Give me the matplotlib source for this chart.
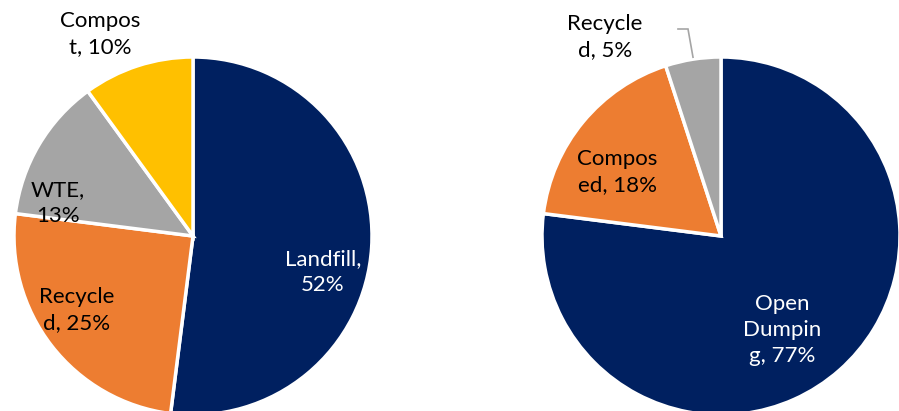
import numpy as np
import matplotlib.pyplot as plt

# Waste treatment shares for the two pies
left_labels = ["Landfill,\n52%", "Recycle\nd, 25%", "WTE,\n13%", "Compos\nt, 10%"]
left_values = [52, 25, 13, 10]
right_labels = ["Open\nDumpin\ng, 77%", "Compos\ned, 18%", "Recycle\nd, 5%"]
right_values = [77, 18, 5]

navy, orange, gray, gold = "#002060", "#ED7D31", "#A5A5A5", "#FFC000"

W, H = 899, 411
fig = plt.figure(figsize=(W / 100, H / 100), dpi=100)
ax = fig.add_axes([0, 0, 1, 1])

R = 179
left_c = (193, H - 236)
right_c = (721, H - 236)

wedge_style = dict(edgecolor="white", linewidth=2.5)
ax.pie(left_values, center=left_c, radius=R, startangle=90, counterclock=False,
       colors=[navy, orange, gray, gold], wedgeprops=wedge_style)
wedges_r, _ = ax.pie(right_values, center=right_c, radius=R, startangle=90,
                     counterclock=False, colors=[navy, orange, gray],
                     wedgeprops=wedge_style)

ax.set_xlim(0, W)
ax.set_ylim(0, H)
ax.set_aspect("equal")
ax.axis("off")

font = dict(family=["Lato", "DejaVu Sans"], fontsize=16, ha="center", va="center",
            linespacing=1.4)

# label anchor points (pixel layout, y measured from top)
left_pos = [(323, 272), (77, 310), (58, 203), (100, 34)]
left_col = ["white", "black", "black", "black"]
for lab, (x, y), c in zip(left_labels, left_pos, left_col):
    ax.text(x, H - y, lab, color=c, **font)

right_pos = [(782, 330), (617, 172), (605, 37)]
right_col = ["white", "black", "black"]
for lab, (x, y), c in zip(right_labels, right_pos, right_col):
    ax.text(x, H - y, lab, color=c, **font)

# leader line for the small slice
w = wedges_r[2]
mid = np.deg2rad((w.theta1 + w.theta2) / 2)
x0 = right_c[0] + R * np.cos(mid)
y0 = right_c[1] + R * np.sin(mid)
ax.plot([x0, x0 - 5, x0 - 15], [y0 + 2, H - 29, H - 29], color="#A5A5A5", lw=1.2,
        solid_joinstyle="miter")

fig.savefig("out.png", dpi=100)
